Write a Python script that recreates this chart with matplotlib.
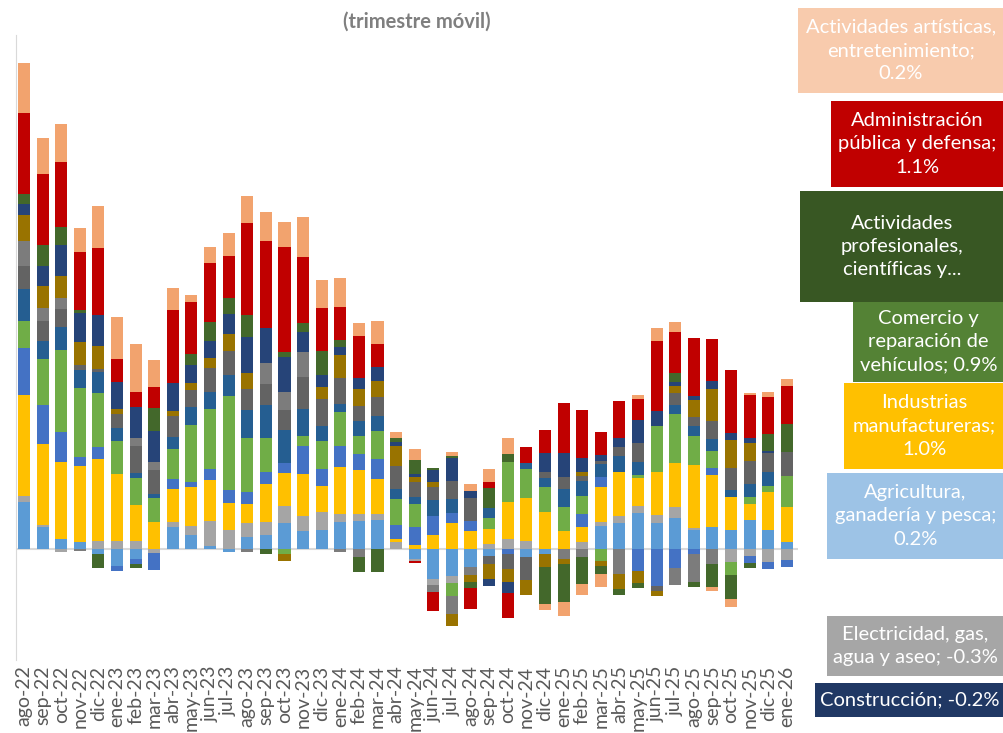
import numpy as np
import matplotlib.pyplot as plt
from matplotlib.patches import Rectangle

plt.rcParams['font.family'] = ['Lato', 'DejaVu Sans']

meses = ["ago-22", "sep-22", "oct-22", "nov-22", "dic-22",
         "ene-23", "feb-23", "mar-23", "abr-23", "may-23", "jun-23", "jul-23",
         "ago-23", "sep-23", "oct-23", "nov-23", "dic-23",
         "ene-24", "feb-24", "mar-24", "abr-24", "may-24", "jun-24", "jul-24",
         "ago-24", "sep-24", "oct-24", "nov-24", "dic-24",
         "ene-25", "feb-25", "mar-25", "abr-25", "may-25", "jun-25", "jul-25",
         "ago-25", "sep-25", "oct-25", "nov-25", "dic-25", "ene-26"]

# contribuciones en puntos porcentuales
agricultura = [1.34, 0.63, 0.29, 0.2, -0.14, -0.49, -0.29, 0, 0.63, 0.4, 0.09, -0.09,
               0.34, 0.4, 0.74, 0.51, 0.54, 0.77, 0.8, 0.83, 0, -0.29, -0.86, -0.77,
               -0.51, -0.2, 0, -0.23, -0.14, 0, 0, 0.66, 0.74, 1.03, 0.74, 0.89,
               0.54, 0.63, 0.54, 0.83, 0.54, 0.2]
electricidad = [0.17, 0.06, -0.09, 0, 0.23, 0.23, 0.23, -0.11, 0.14, 0.26, 0.71, 0.54,
                0.4, 0.37, 0.49, 0.43, 0.51, 0.23, 0.2, 0.17, 0.2, -0.06, -0.17, -0.2,
                0, 0.14, 0.29, 0.23, 0, 0, 0.2, 0.11, 0.2, 0.2, 0.23, 0.31,
                0.06, 0, -0.37, -0.2, -0.37, -0.3]
industria = [2.89, 2.31, 2.2, 2.17, 2.34, 1.91, 1.03, 0.77, 0.94, 1.11, 1.17, 0.77,
             0.54, 1.09, 0.94, 1.2, 0.74, 1.34, 1.26, 1.0, 0.09, 0.11, 0.4, 0.74,
             0.51, 0.43, 1.06, 1.23, 1.06, 0.51, 0.43, 1.0, 1.26, 0.8, 1.23, 1.26,
             1.8, 1.49, 0.94, 0.46, 1.09, 1.0]
construccion = [1.34, 1.11, 0.86, 0.26, 0.34, -0.14, -0.14, -0.49, 0.29, 0.14, 0.31, 0.37,
                0.34, 0.34, 0.29, 0.8, 0.51, 0.6, 0.46, 0.57, 0.4, 0.51, 0.54, 0.29,
                0.29, 0, -0.14, 0, 0, 0, 0.37, 0.29, 0, -0.63, -1.06, -0.54,
                -0.14, 0.2, 0, -0.2, -0.2, -0.2]
comercio = [0.77, 1.31, 2.34, 1.97, 1.54, 0.94, 0.77, 0.69, 0.86, 1.63, 1.71, 2.69,
            1.54, 0.97, -0.14, 0.29, 0.8, 0.97, 0.51, 0.8, 0.74, 0.66, 0, -0.37,
            0, 0.31, 1.14, 0.83, 0.71, 0.69, 0.51, -0.34, 0, 0.09, 1.31, 1.4,
            0.83, 0.49, -0.37, 0.2, 0.17, 0.9]
transporte = [0.91, 0.54, 0.66, 0.51, 0.6, 0.37, 0.14, 0.11, 0.34, 0.51, 0.51, 0.6,
              0.8, 0.94, 0.94, 0.77, 0.43, 0.23, 0.43, 0.43, 0.29, 0.2, 0.46, 0.4,
              0, 0.29, 0, 0.17, 0.26, 0.51, 0.43, 0.37, 0.46, 0.37, 0, 0.26,
              0.29, 0.34, 0.2, 0.37, 0.4, 0]
alojamiento = [0.66, 0.57, 0.51, 0.14, 0.09, 0.4, 0.77, 0.69, 0.6, 0.49, 0.66, 0.69,
               0.6, 0.6, 0.57, 0.91, 0.77, 0.74, 0.43, 0.54, 0.66, 0.43, 0.37, 0.51,
               0.66, -0.23, -0.43, -0.66, 0.17, 0.34, 0.14, 0.09, 0.26, 0.54, -0.14, 0.34,
               0.26, 0.51, 0.63, 0.66, 0.54, 0.66]
informacion = [0.71, 0.37, 0.31, -0.06, 0, 0, 0.23, 0.23, 0, 0, 0, 0,
               -0.09, 0.6, 0.51, 0.71, 0, -0.09, -0.23, 0, 0, 0, -0.2, -0.51,
               -0.23, 0, 0, 0, 0, -0.29, -0.23, 0, -0.71, 0, 0, -0.49,
               -0.8, -0.43, 0, 0, 0, 0]
financieras = [0.77, 0.63, 0.63, 0.66, 0.66, 0.14, 0, 0, 0.14, 0.2, 0.29, 0.49,
               0.46, 0, -0.2, 0, 0.34, 0.66, 0.49, 0.46, 0.57, 0.14, 0.14, -0.34,
               -0.2, -0.43, -0.37, -0.43, -0.37, -0.14, 0.11, -0.14, -0.43, -0.34, -0.14, 0.2,
               0.49, 0.91, 0.8, 0.51, 0, 0]
inmobiliarias = [0.31, 0.57, 0.89, 0.83, 0.89, 0.77, 0.89, 0.89, 0.8, 0.51, 0.49, 0.57,
                 1.03, 1.0, 1.0, 0.57, 0.34, 0.23, 0.31, 0.4, 0.11, 0.09, 0.34, 0.66,
                 0.2, -0.2, -0.31, 0, 0.54, 0.69, 0.4, 0.17, 0.26, 0.66, 0.43, 0.11,
                 0.09, 0.23, 0.2, 0.14, 0.06, 0]
profesionales = [0.29, 0.6, 0.51, 0.09, -0.4, 0, -0.11, 0.66, 0, 0.31, 0.54, 0.46,
                 0.63, -0.14, 0.14, 0.26, 0.69, 0.2, -0.43, -0.66, 0.11, 0.4, 0.06, 0.06,
                 -0.17, 0.57, 0.23, 0, -1.06, -1.09, -0.77, -0.23, -0.17, -0.14, 0, 0.26,
                 -0.14, -0.66, -0.69, -0.14, 0.49, 0.8]
administracion = [2.29, 2.03, 1.86, 1.66, 1.91, 0.66, 0.43, 0.6, 2.09, 1.49, 1.69, 1.2,
                  2.63, 2.49, 3.0, 1.91, 1.23, 0.94, 1.2, 0.66, 0, -0.06, -0.54, 0,
                  -0.6, 0.17, -0.71, 0.46, 0.66, 1.43, 1.37, 0.66, 1.06, 0.6, 2.0, 1.17,
                  1.66, 1.2, 1.8, 1.23, 1.06, 1.1]
artisticas = [1.43, 1.03, 1.09, 0.69, 1.2, 1.2, 1.37, 0.77, 0.63, 0.2, 0.46, 0.66,
              0.77, 0.83, 0.74, 1.14, 0.8, 0.83, 0.37, 0.66, 0.17, 0.31, 0, 0.11,
              0.2, 0.37, 0.46, 0, -0.17, -0.4, -0.31, -0.37, 0, 0.11, 0.37, 0.29,
              0, -0.11, -0.23, 0.06, 0.14, 0.2]

series = [
    (agricultura, "#5B9BD5"),
    (electricidad, "#A5A5A5"),
    (industria, "#FFC000"),
    (construccion, "#4472C4"),
    (comercio, "#70AD47"),
    (transporte, "#255E91"),
    (alojamiento, "#636363"),
    (informacion, "#7C7C7C"),
    (financieras, "#997300"),
    (inmobiliarias, "#264478"),
    (profesionales, "#43682B"),
    (administracion, "#C00000"),
    (artisticas, "#F2A36E"),
]

W, H = 1004, 733
fig = plt.figure(figsize=(W / 100, H / 100), dpi=100)
ax = fig.add_axes([16 / W, 1 - 660 / H, (798 - 16) / W, (660 - 35) / H])

x = np.arange(len(meses))
base_pos = np.zeros(len(meses))
base_neg = np.zeros(len(meses))
for vals, color in series:
    v = np.array(vals, dtype=float)
    p = np.where(v > 0, v, 0)
    q = np.where(v < 0, v, 0)
    ax.bar(x, p, 0.65, bottom=base_pos, color=color, linewidth=0)
    ax.bar(x, q, 0.65, bottom=base_neg, color=color, linewidth=0)
    base_pos += p
    base_neg += q

ax.axhline(0, color="#D9D9D9", lw=1.5, zorder=0)
ax.set_xlim(-0.43, 41.6)
ax.set_ylim(-3.17, 14.69)
ax.set_yticks([])
ax.set_xticks(x)
ax.set_xticklabels(meses, rotation=90, fontsize=14, color="#595959")
ax.tick_params(axis="x", length=0, pad=4)
for s in ["top", "right", "bottom"]:
    ax.spines[s].set_visible(False)
ax.spines["left"].set_color("#D9D9D9")

fig.text(417 / W, 1 - 22 / H, "(trimestre móvil)", ha="center", va="center",
         fontsize=14.5, fontweight="bold", color="#7F7F7F")

# cajas de etiquetas a la derecha: (x0, y0, x1, y1, color, texto)
cajas = [
    (798, 8, 1004, 93, "#F8CBAD", "Actividades artísticas,\nentretenimiento;\n0.2%"),
    (831, 101, 1004, 187, "#C00000", "Administración\npública y defensa;\n1.1%"),
    (800, 191, 1004, 302, "#385723", "Actividades\nprofesionales,\ncientíficas y..."),
    (853, 302, 1004, 382, "#548235", "Comercio y\nreparación de\nvehículos; 0.9%"),
    (844, 383, 1004, 469, "#FFC000", "Industrias\nmanufactureras;\n1.0%"),
    (827, 473, 1004, 559, "#9DC3E6", "Agricultura,\nganadería y pesca;\n0.2%"),
    (827, 616, 1004, 676, "#A6A6A6", "Electricidad, gas,\nagua y aseo; -0.3%"),
    (815, 683, 1004, 717, "#203864", "Construcción; -0.2%"),
]
for x0, y0, x1, y1, col, txt in cajas:
    fig.patches.append(Rectangle((x0 / W, 1 - y1 / H), (x1 - x0) / W, (y1 - y0) / H,
                                 transform=fig.transFigure, facecolor=col,
                                 edgecolor="none", zorder=3))
    fig.text((x0 + x1) / 2 / W, 1 - (y0 + y1) / 2 / H, txt, ha="center", va="center",
             fontsize=14.5, color="white", linespacing=1.45, zorder=4)

fig.savefig("out.png", dpi=100)
